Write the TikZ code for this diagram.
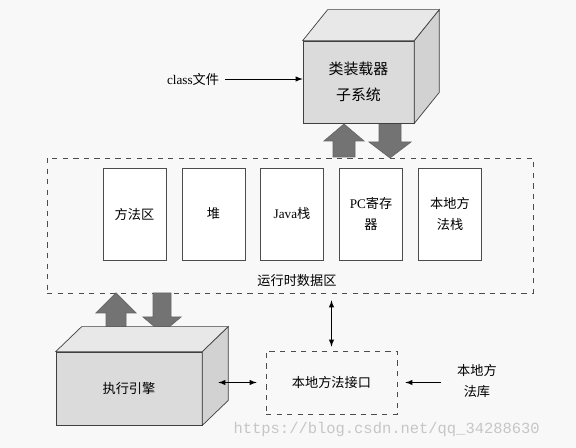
\documentclass[tikz,border=0pt]{standalone}
\usepackage{fontspec}
\setmainfont{Liberation Serif}
\newfontfamily\cjk{Noto Sans CJK SC}
\newfontfamily\wmfont{Liberation Mono}
\definecolor{paper}{RGB}{248,248,248}
\newcommand{\bigarrow}[6]{% x, tail, head base, tip, shaft half, head half
  \filldraw[bigarr] (#1-#5,#2) -- (#1-#5,#3) -- (#1-#6,#3) -- (#1,#4) -- (#1+#6,#3) -- (#1+#5,#3) -- (#1+#5,#2) -- cycle;}
\begin{document}
\begin{tikzpicture}[x=0.02cm, y=-0.02cm, >=latex,
    every node/.style={font=\fontsize{7.5}{12}\selectfont},
    cubefront/.style={draw=black!75, fill=gray!28, align=center, inner sep=0pt},
    cubetop/.style={draw=black!75, fill=gray!18},
    cubeside/.style={draw=black!75, fill=gray!35},
    bigarr/.style={draw=black!60, fill=black!55},
    areabox/.style={draw=black!70, fill=white, rectangle, minimum width=1.26cm, minimum height=1.84cm, align=center, inner sep=1pt},
    dashbox/.style={draw=black!70, dashed, rectangle}
]
    \fill[paper] (0,0) rectangle (576,448);
    \useasboundingbox (0,0) rectangle (576,448);

    \node[dashbox, minimum width=9.72cm, minimum height=2.7cm] (rt) at (290,225.5) {};
    \node (rtlabel) at (297,281) {\cjk 运行时数据区};

    \node[areabox] (method) at (134.5,214) {\cjk 方法区};
    \node[areabox] (heap) at (213.5,214) {\cjk 堆};
    \node[areabox] (jstack) at (292,214) {Java{\cjk 栈}};
    \node[areabox] (pcreg) at (371,214) {PC{\cjk 寄存}\\{\cjk 器}};
    \node[areabox] (nstack) at (450,214) {\cjk 本地方\\\cjk 法栈};

    % class loader subsystem
    \bigarrow{344}{157}{141}{124}{11}{20}
    \bigarrow{390}{123}{142}{158}{11}{21}
    \node[cubefront, minimum width=2.22cm, minimum height=1.64cm, font=\fontsize{8.5}{15}\selectfont] (loader) at (358.5,82) {\cjk 类装载器\\\cjk 子系统};
    \filldraw[cubetop] (loader.north west) -- ([shift={(25,-31)}]loader.north west) -- ([shift={(25,-31)}]loader.north east) -- (loader.north east) -- cycle;
    \filldraw[cubeside] (loader.north east) -- ([shift={(25,-31)}]loader.north east) -- ([shift={(25,-31)}]loader.south east) -- (loader.south east) -- cycle;

    \node (cls) at (193,79) {class{\cjk 文件}};
    \draw[->] (cls) -- (loader.west |- cls);

    % execution engine
    \bigarrow{116}{333}{313}{293}{10}{20}
    \bigarrow{162}{293}{317}{333}{9}{19}
    \node[cubefront, minimum width=2.92cm, minimum height=1.46cm] (engine) at (129,388.5) {\cjk 执行引擎};
    \filldraw[cubetop] (engine.north west) -- ([shift={(26,-25)}]engine.north west) -- ([shift={(26,-25)}]engine.north east) -- (engine.north east) -- cycle;
    \filldraw[cubeside] (engine.north east) -- ([shift={(26,-25)}]engine.north east) -- ([shift={(26,-25)}]engine.south east) -- (engine.south east) -- cycle;

    \node[dashbox, minimum width=2.62cm, minimum height=1.26cm] (iface) at (331.5,382.5) {\cjk 本地方法接口};
    \node[align=center] (lib) at (477,381) {\cjk 本地方\\\cjk 法库};

    \draw[<->, shorten <=0.14cm, shorten >=0.08cm] (rt.south -| iface.north) -- (iface.north);
    \draw[<->, shorten >=0.18cm] ([xshift=0.32cm]engine.east |- iface.west) -- (iface.west);
    \draw[->, shorten <=0.2cm, shorten >=0.16cm] (lib.west |- iface.east) -- (iface.east);

    \node[anchor=east, text=gray!45, font=\wmfont\fontsize{8.8}{10}\selectfont] (mark) at (546,430) {https://blog.csdn.net/qq\_34288630};
\end{tikzpicture}
\end{document}
